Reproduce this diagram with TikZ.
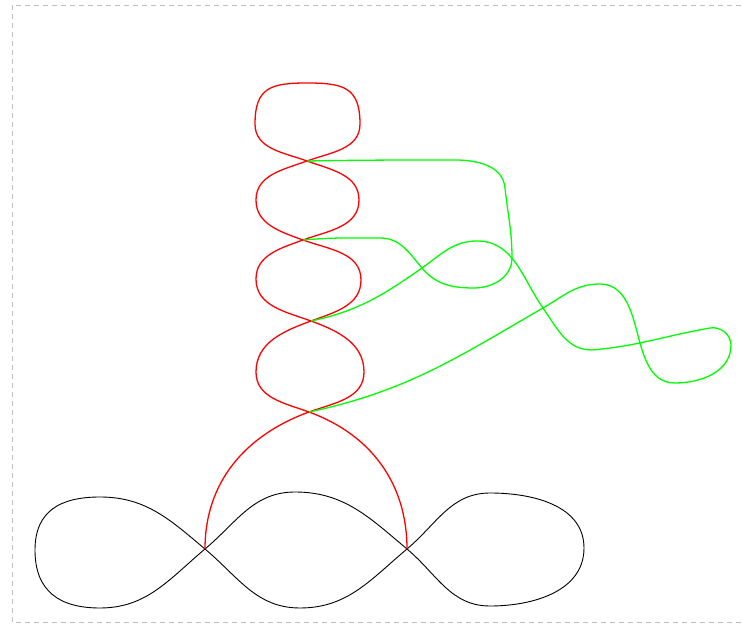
\documentclass[tikz,border=0pt]{standalone}
\begin{document}
\begin{tikzpicture}[x=1pt,y=1pt,
  redc/.style={draw=red,line width=1.3pt},
  greenc/.style={draw=green,line width=1.3pt},
  blackc/.style={draw=black,line width=0.9pt},
  frame/.style={draw=black!25,dash pattern=on 5pt off 4pt,line width=0.8pt}]
\useasboundingbox (0,0) rectangle (742,624);
\draw[frame] (12,2) rectangle (745,619);
% crossings
\coordinate (C1) at (307,463);
\coordinate (C2) at (303,384);
\coordinate (C3) at (311,303);
\coordinate (C4) at (309,212);
\coordinate (B1) at (205,75);
\coordinate (B2) at (407,75);
% black curve
\draw[blackc] (B1) to[out=40,in=180] (295,132) to[out=0,in=140] (B2)
  to[out=-40,in=180] (490,18) to[out=0,in=-90] (584,76)
  to[out=90,in=0] (490,131) to[out=180,in=40] (B2)
  to[out=220,in=0] (300,16) to[out=180,in=-40] (B1)
  to[out=140,in=0] (100,127) to[out=180,in=90,looseness=1.2] (35,74)
  to[out=-90,in=180,looseness=1.2] (100,16) to[out=0,in=220] (B1);
% red chain
\draw[redc] (B1) to[out=90,in=200] (C4)
  to[out=20,in=-90] (364,252) to[out=90,in=-20] (C3)
  to[out=160,in=-90] (256,345) to[out=90,in=200] (C2)
  to[out=20,in=-90] (359,424) to[out=90,in=-20] (C1)
  to[out=160,in=-90] (255,500) to[out=90,in=180,looseness=1.4] (307,541)
  to[out=0,in=90,looseness=1.4] (360,500) to[out=-90,in=20] (C1)
  to[out=200,in=90] (256,424) to[out=-90,in=160] (C2)
  to[out=-20,in=90] (361,344) to[out=-90,in=20] (C3)
  to[out=200,in=90] (256,252) to[out=-90,in=160] (C4)
  to[out=-20,in=90] (B2);
% green curves
\draw[greenc] (C1) to[out=1,in=180] (455,464) to[out=0,in=95] (505,436)
  to[out=-84,in=90] (512,366) to[out=-90,in=0] (474,336)
  to[out=180,in=-50] (422,356) to[out=130,in=0] (380,386)
  to[out=180,in=5] (C2);
\draw[greenc] (C3) to[out=12,in=215] (422,356) to[out=35,in=180] (477,383)
  to[out=0,in=125] (543,316) to[out=-55,in=180] (592,274)
  to[out=5,in=190] (710,296) to[out=10,in=90] (731,279)
  to[out=-90,in=0] (675,241) to[out=180,in=-75] (636,296)
  to[out=105,in=0] (600,340) to[out=180,in=30] (543,316)
  to[out=210,in=12] (C4);
\end{tikzpicture}
\end{document}
